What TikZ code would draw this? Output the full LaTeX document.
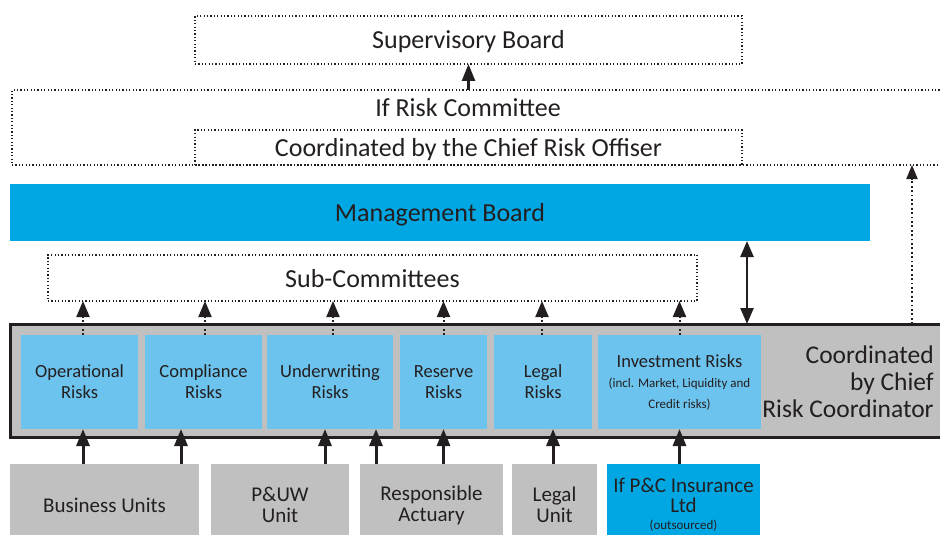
\documentclass[tikz,border=0pt]{standalone}
\usepackage{fontspec}
\setmainfont{Carlito}
\usetikzlibrary{arrows.meta}
\definecolor{ifblue}{HTML}{00A7E3}
\definecolor{risklight}{HTML}{6CC3ED}
\definecolor{boxgrey}{HTML}{C0C0C0}
\definecolor{txt}{HTML}{231F20}
\begin{document}
\begin{tikzpicture}[x=1pt,y=-1pt,outer sep=0pt,text=txt,
  dotbox/.style={draw=txt, line width=1.2pt, dash pattern=on 1.2pt off 2.2pt, rectangle, inner sep=0pt},
  bigtxt/.style={font=\fontsize{26}{28}\selectfont, text height=22pt, text depth=4pt},
  riskbox/.style={rectangle, fill=risklight, inner sep=0pt, minimum height=94pt, align=center, font=\fontsize{18.5}{21}\selectfont},
  unitbox/.style={rectangle, fill=boxgrey, inner sep=0pt, minimum height=82pt, align=center, font=\fontsize{21}{21}\selectfont},
  uparr/.style={-{Triangle[length=17pt,width=13pt]}, line width=3pt, draw=txt},
  dotarr/.style={-{Triangle[length=16pt,width=13pt]}, line width=2pt, dash pattern=on 1.8pt off 2.6pt, draw=txt}
]
\useasboundingbox (0,0) rectangle (940,535);
% top: supervisory board and risk committee
\node[dotbox, bigtxt, minimum width=547pt, minimum height=48pt] (sup) at (468.5,40){Supervisory Board};
\node[dotbox, minimum width=938pt, minimum height=75pt] (irc) at (481,127.5){};
\node[bigtxt] (irct) at (468,108){If Risk Committee};
\node[dotbox, bigtxt, minimum width=547pt, minimum height=35pt] (cro) at (468.5,147.5){Coordinated by the Chief Risk Offiser};
\draw[uparr, line width=2.5pt](sup.south |- irc.north) -- (sup.south);
% management board and sub-committees
\node[rectangle, fill=ifblue, bigtxt, minimum width=860pt, minimum height=57pt] (mb) at (440,212.5){Management Board};
\node[dotbox, bigtxt, minimum width=649pt, minimum height=46pt] (sub) at (372.5,278){Sub-Committees};
% risk coordination band
\node[rectangle, fill=boxgrey, draw=txt, line width=3pt, minimum width=940pt, minimum height=113pt] (crc) at (480,380.5){};
\node[anchor=east, align=right, font=\fontsize{25.5}{27}\selectfont] (crct) at (937,382){Coordinated\\by Chief\\Risk Coordinator};
\node[riskbox, minimum width=117pt] (rsk0) at (79.5,382){Operational\\Risks};
\node[riskbox, minimum width=117pt] (rsk1) at (203.5,382){Compliance\\Risks};
\node[riskbox, minimum width=126pt] (rsk2) at (330,382){Underwriting\\Risks};
\node[riskbox, minimum width=87pt] (rsk3) at (443.5,382){Reserve\\Risks};
\node[riskbox, minimum width=98pt] (rsk4) at (543,382){Legal\\Risks};
\node[riskbox, minimum width=163pt] (rsk5) at (679.5,382){Investment Risks\\[-1pt]\fontsize{13}{16}\selectfont(incl. Market, Liquidity and\\\fontsize{13}{16}\selectfont Credit risks)};
\draw[dotarr]([xshift=3.5pt]rsk0.north) -- ([xshift=3.5pt]rsk0.north |- sub.south);
\draw[dotarr]([xshift=1.5pt]rsk1.north) -- ([xshift=1.5pt]rsk1.north |- sub.south);
\draw[dotarr]([xshift=3pt]rsk2.north) -- ([xshift=3pt]rsk2.north |- sub.south);
\draw[dotarr](rsk3.north) -- (rsk3.north |- sub.south);
\draw[dotarr]([xshift=-1pt]rsk4.north) -- ([xshift=-1pt]rsk4.north |- sub.south);
\draw[dotarr](rsk5.north) -- (rsk5.north |- sub.south);
\coordinate (dbl) at (747,0);
\coordinate (crup) at (912,0);
\draw[{Triangle[length=16pt,width=13pt]}-{Triangle[length=16pt,width=13pt]}, line width=2.5pt, draw=txt](mb.south -| dbl) -- (crc.north -| dbl);
\draw[dotarr, -{Triangle[length=14pt,width=11pt]}](crc.north -| crup) -- (irc.south -| crup);
% units below
\node[unitbox, minimum width=189pt] (unit0) at (104.5,505){Business Units};
\node[unitbox, minimum width=138pt] (unit1) at (280,505){P\&UW\\Unit};
\node[unitbox, minimum width=143pt] (unit2) at (431.5,505){Responsible\\Actuary};
\node[unitbox, minimum width=85pt] (unit3) at (554.5,505){Legal\\Unit};
\node[unitbox, fill=ifblue, minimum width=153pt, font=\fontsize{21}{20}\selectfont] (unit4) at (683.5,505){If P\&C Insurance\\Ltd\\[-3pt]\fontsize{13}{20}\selectfont(outsourced)};
\draw[uparr]([xshift=3.5pt]rsk0.south |- unit0.north) -- ([xshift=3.5pt]rsk0.south);
\draw[uparr]([xshift=-22.5pt]rsk1.south |- unit0.north) -- ([xshift=-22.5pt]rsk1.south);
\draw[uparr]([xshift=-5pt]rsk2.south |- unit1.north) -- ([xshift=-5pt]rsk2.south);
\draw[uparr]([xshift=46pt]rsk2.south |- unit2.north) -- ([xshift=46pt]rsk2.south);
\draw[uparr](rsk3.south |- unit2.north) -- (rsk3.south);
\draw[uparr]([xshift=10pt]rsk4.south |- unit3.north) -- ([xshift=10pt]rsk4.south);
\draw[uparr](rsk5.south |- unit4.north) -- (rsk5.south);
\end{tikzpicture}
\end{document}
